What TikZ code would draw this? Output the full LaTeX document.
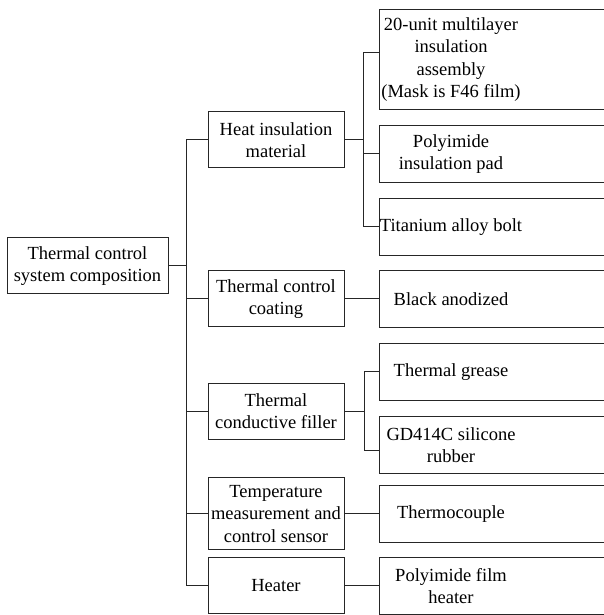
\documentclass[tikz,border=0pt]{standalone}
\usepackage{fontspec}
\setmainfont{Liberation Serif}
\begin{document}
\begin{tikzpicture}[x=1pt,y=1pt,line width=1pt,draw=black!85,
  box/.style={draw,rectangle,align=center,inner sep=2pt,minimum height=56pt,font=\fontsize{18.5}{22.3}\selectfont},
  part/.style={box,minimum width=136pt},
  leaf/.style={box,draw=none}]
\useasboundingbox (0,0) rectangle (603,615);
\node[box,minimum width=161pt] (sys) at (87.5,349) {Thermal control\\system composition};
\node[part] (ins) at (276,475) {Heat insulation\\material};
\node[part] (coat) at (276,316) {Thermal control\\coating};
\node[part] (fill) at (276,203.5) {Thermal\\conductive filler};
\node[part,minimum height=72pt] (sens) at (276,101) {Temperature\\measurement and\\control sensor};
\node[part] (heat) at (276,29) {Heater};
\node[leaf,minimum height=99pt] (mli) at (451,555.5) {20-unit multilayer\\insulation\\assembly\\(Mask is F46 film)};
\node[leaf] (pad) at (451,461) {Polyimide\\insulation pad};
\node[leaf] (bolt) at (451,388) {Titanium alloy bolt};
\node[leaf] (anod) at (451,316) {Black anodized};
\node[leaf] (grease) at (451,243) {Thermal grease};
\node[leaf] (rubber) at (451,170) {GD414C silicone\\rubber};
\node[leaf] (tc) at (451,101) {Thermocouple};
\node[leaf] (film) at (451,29) {Polyimide film\\heater};
\coordinate (trunk) at (186,0);
\coordinate (br1) at (363,0);
\coordinate (br2) at (364,0);
\coordinate (lx) at (379,0);
\coordinate (rx) at (620,0);
\foreach \n in {mli,pad,bolt,anod,grease,rubber,tc,film}
  \draw (\n.north -| rx) -- (\n.north -| lx) -- (\n.south -| lx) -- (\n.south -| rx);
\draw (sys.east) -- (sys.east -| trunk);
\draw (ins.west -| trunk) -- (heat.west -| trunk);
\foreach \n in {ins,coat,fill,sens,heat}
  \draw (\n.west -| trunk) -- (\n.west);
\draw (ins.east) -- (ins.east -| br1);
\draw ([yshift=6.5pt]mli.west -| br1) -- (bolt.west -| br1);
\draw ([yshift=6.5pt]mli.west -| br1) -- ([yshift=6.5pt]mli.west -| lx);
\foreach \n in {pad,bolt}
  \draw (\n.west -| br1) -- (\n.west -| lx);
\draw (fill.east) -- (fill.east -| br2);
\draw (grease.west -| br2) -- ([yshift=-6pt]rubber.west -| br2);
\draw (grease.west -| br2) -- (grease.west -| lx);
\draw ([yshift=-6pt]rubber.west -| br2) -- ([yshift=-6pt]rubber.west -| lx);
\draw (coat.east) -- (coat.east -| lx);
\draw (sens.east) -- (sens.east -| lx);
\draw (heat.east) -- (heat.east -| lx);
\end{tikzpicture}
\end{document}
